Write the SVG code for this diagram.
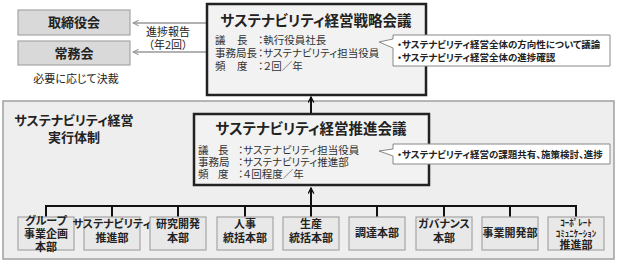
<svg xmlns="http://www.w3.org/2000/svg" width="620" height="263" viewBox="0 0 620 263">
<defs>
<style>
text{font-family:"Noto Sans CJK JP","Noto Sans",sans-serif;fill:#222;font-feature-settings:"palt";}
.b{font-weight:bold;}
.c{text-anchor:middle;}
.lbox{fill:#d9d9d9;stroke:#a6a6a6;stroke-width:1.2;}
.main{fill:#f2f2f2;stroke:#222;stroke-width:2.5;}
.unit{fill:#e8e8e8;stroke:#a6a6a6;stroke-width:1.2;}
.call{fill:#fff;stroke:#888;stroke-width:1;}
.det{font-size:10.5px;fill:#333;}
.ut{font-size:11px;font-weight:bold;text-anchor:middle;}
</style>
<marker id="ak" viewBox="0 0 10 10" refX="9" refY="5" markerWidth="7" markerHeight="7" orient="auto" markerUnits="userSpaceOnUse">
<path d="M1,1 L9,5 L1,9" fill="none" stroke="#111" stroke-width="1.8"/>
</marker>
<marker id="ag" viewBox="0 0 10 10" refX="9" refY="5" markerWidth="7" markerHeight="7" orient="auto" markerUnits="userSpaceOnUse">
<path d="M1,1 L9,5 L1,9" fill="none" stroke="#999" stroke-width="1.5"/>
</marker>
</defs>
<rect width="620" height="263" fill="#fff"/>

<g id="area">
<rect x="3" y="101" width="611" height="158" fill="#eeeeee" stroke="#a0a0a0" stroke-width="1.5"/>
<text class="b c" x="74" font-size="13"><tspan x="74" y="125">サステナビリティ経営</tspan><tspan x="74" y="142">実行体制</tspan></text>
</g>

<g id="connectors">
<line x1="206" y1="23" x2="133" y2="23" stroke="#999" stroke-width="1.5" marker-end="url(#ag)"/>
<line x1="206" y1="52" x2="133" y2="52" stroke="#999" stroke-width="1.5" marker-end="url(#ag)"/>
<line x1="311" y1="114" x2="311" y2="97" stroke="#111" stroke-width="2" marker-end="url(#ak)"/>
<path d="M46,217 V206 H576 V217 M112,206 V217 M178,206 V217 M245,206 V217 M377,206 V217 M444,206 V217 M510,206 V217" fill="none" stroke="#111" stroke-width="2"/>
<line x1="311" y1="217" x2="311" y2="188" stroke="#111" stroke-width="2" marker-end="url(#ak)"/>
</g>
<text class="c" font-size="11"><tspan x="168" y="36">進捗報告</tspan><tspan x="168" y="49">（年2回）</tspan></text>

<g id="torishimariyakukai">
<rect class="lbox" x="18" y="10" width="112" height="25"/>
<text class="b c" x="74" y="27" font-size="13">取締役会</text>
</g>
<g id="jomukai">
<rect class="lbox" x="18" y="41" width="112" height="24"/>
<text class="b c" x="74" y="58" font-size="13">常務会</text>
<text class="c" x="76" y="83" font-size="11">必要に応じて決裁</text>
</g>

<g id="senryaku">
<rect class="main" x="207" y="4" width="219" height="91"/>
<text class="b c" x="316" y="26" font-size="14.5">サステナビリティ経営戦略会議</text>
<text class="det"><tspan x="215" y="44">議</tspan><tspan x="237" y="44">長</tspan><tspan x="215" y="57">事務局長</tspan><tspan x="215" y="70">頻</tspan><tspan x="237" y="70">度</tspan></text>
<text class="det"><tspan x="258" y="44">：執行役員社長</tspan><tspan x="258" y="57">：サステナビリティ担当役員</tspan><tspan x="258" y="70">：２回／年</tspan></text>
</g>
<g id="callout1">
<path class="call" d="M393,35 H610 V66 H393 V48 L379,42 L393,39 Z"/>
<text class="b" font-size="9.5"><tspan x="397" y="48">・サステナビリティ経営全体の方向性について議論</tspan><tspan x="397" y="61">・サステナビリティ経営全体の進捗確認</tspan></text>
</g>

<g id="suishin">
<rect class="main" x="194" y="114" width="235" height="71"/>
<text class="b c" x="311" y="134" font-size="14.5">サステナビリティ経営推進会議</text>
<text class="det"><tspan x="198" y="154">議</tspan><tspan x="218" y="154">長</tspan><tspan x="198" y="166">事務局</tspan><tspan x="198" y="178">頻</tspan><tspan x="218" y="178">度</tspan></text>
<text class="det"><tspan x="238" y="154">：サステナビリティ担当役員</tspan><tspan x="238" y="166">：サステナビリティ推進部</tspan><tspan x="238" y="178">：４回程度／年</tspan></text>
</g>
<g id="callout2">
<path class="call" d="M393,144 H610 V164 H393 V156 L379,151 L393,149 Z"/>
<text class="b" x="397" y="158" font-size="9.5">・サステナビリティ経営の課題共有、施策検討、進捗</text>
</g>

<g id="u1"><rect class="unit" x="18" y="217" width="56" height="33"/>
<text class="ut"><tspan x="46" y="225">グループ</tspan><tspan x="46" y="238">事業企画</tspan><tspan x="46" y="251">本部</tspan></text></g>
<g id="u2"><rect class="unit" x="84" y="217" width="56" height="33"/>
<text class="ut"><tspan x="112" y="228">サステナビリティ</tspan><tspan x="112" y="242">推進部</tspan></text></g>
<g id="u3"><rect class="unit" x="150" y="217" width="56" height="33"/>
<text class="ut"><tspan x="178" y="228">研究開発</tspan><tspan x="178" y="242">本部</tspan></text></g>
<g id="u4"><rect class="unit" x="217" y="217" width="56" height="33"/>
<text class="ut"><tspan x="245" y="228">人事</tspan><tspan x="245" y="242">統括本部</tspan></text></g>
<g id="u5"><rect class="unit" x="283" y="217" width="56" height="33"/>
<text class="ut"><tspan x="311" y="228">生産</tspan><tspan x="311" y="242">統括本部</tspan></text></g>
<g id="u6"><rect class="unit" x="349" y="217" width="56" height="33"/>
<text class="ut" x="377" y="237">調達本部</text></g>
<g id="u7"><rect class="unit" x="416" y="217" width="56" height="33"/>
<text class="ut"><tspan x="444" y="228">ガバナンス</tspan><tspan x="444" y="242">本部</tspan></text></g>
<g id="u8"><rect class="unit" x="482" y="217" width="56" height="33"/>
<text class="ut" x="510" y="237">事業開発部</text></g>
<g id="u9"><rect class="unit" x="548" y="217" width="56" height="33"/>
<text class="ut"><tspan x="576" y="226" font-size="9">ｺｰﾎﾟﾚｰﾄ</tspan><tspan x="576" y="237" font-size="9">ｺﾐｭﾆｹｰｼｮﾝ</tspan><tspan x="576" y="249">推進部</tspan></text></g>
</svg>
